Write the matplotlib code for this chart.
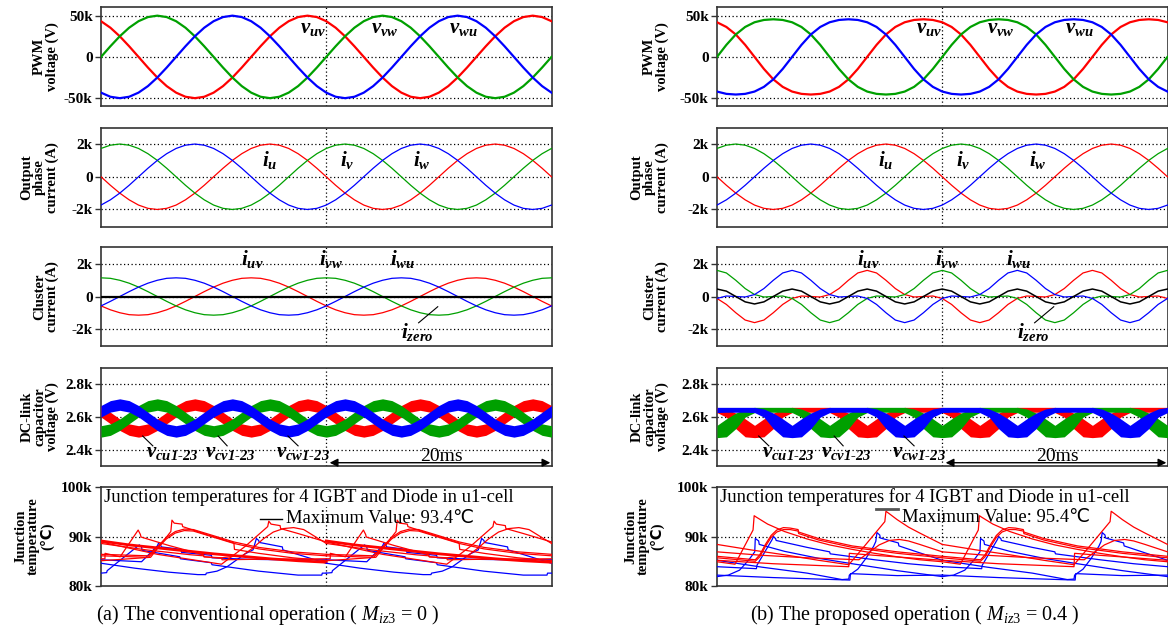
import numpy as np
import matplotlib.pyplot as plt

plt.rcParams['font.family'] = ['Liberation Serif', 'DejaVu Sans']
plt.rcParams['mathtext.fontset'] = 'custom'
plt.rcParams['mathtext.rm'] = 'Liberation Serif'
plt.rcParams['mathtext.it'] = 'Liberation Serif:italic'
plt.rcParams['mathtext.bf'] = 'Liberation Serif:bold'
plt.rcParams['mathtext.bfit'] = 'Liberation Serif:italic:bold'

# ---- data ----------------------------------------------------------------
# sinusoidal quantities: one 20 ms cycle in 15 degree steps (phase u / uv),
# the other two phases are the same cycle shifted by 1/3 period
pwm_uv_a = [43.3, 35.4, 25, 12.9, 0, -12.9, -25, -35.4, -43.3, -48.3, -50, -48.3,
            -43.3, -35.4, -25, -12.9, 0, 12.9, 25, 35.4, 43.3, 48.3, 50, 48.3]
pwm_uv_b = [42.0, 36.3, 27.2, 14.6, 0, -14.6, -27.2, -36.3, -42.0, -44.8, -45.6, -44.8,
            -42.0, -36.3, -27.2, -14.6, 0, 14.6, 27.2, 36.3, 42.0, 44.8, 45.6, 44.8]
cur_u = [0, -0.52, -1.0, -1.41, -1.73, -1.93, -2.0, -1.93, -1.73, -1.41, -1.0, -0.52,
         0, 0.52, 1.0, 1.41, 1.73, 1.93, 2.0, 1.93, 1.73, 1.41, 1.0, 0.52]
clu_uv_a = [-0.58, -0.82, -1.0, -1.12, -1.15, -1.12, -1.0, -0.82, -0.58, -0.3, 0, 0.3,
            0.58, 0.82, 1.0, 1.12, 1.15, 1.12, 1.0, 0.82, 0.58, 0.3, 0, -0.3]
clu_uv_b = [-0.12, -0.49, -1.0, -1.45, -1.61, -1.45, -1.0, -0.49, -0.12, 0.03, 0, -0.03,
            0.12, 0.49, 1.0, 1.45, 1.61, 1.45, 1.0, 0.49, 0.12, -0.03, 0, 0.03]
zero_a = [0] * 24
zero_b = [0.46, 0.33, 0, -0.33, -0.46, -0.33, 0, 0.33] * 3

# DC-link voltage band (kV), one 10 ms ripple cycle, phase v (others shifted)
dc_lo_a = [2.478, 2.489, 2.519, 2.560, 2.601, 2.631, 2.642, 2.631, 2.601, 2.560, 2.519, 2.489]
dc_hi_a = [2.548, 2.559, 2.589, 2.630, 2.671, 2.701, 2.712, 2.701, 2.671, 2.630, 2.589, 2.559]
dc_lo_b = [2.475, 2.48, 2.53, 2.60, 2.628, 2.63, 2.63, 2.63, 2.628, 2.60, 2.53, 2.48]
dc_hi_b = [2.55, 2.59, 2.625, 2.65, 2.66, 2.66, 2.66, 2.66, 2.66, 2.65, 2.625, 2.59]

# junction temperatures, one 20 ms cycle (time ms, value)
jt_red_a = [
    ([0, 2.5, 5, 7.5, 10, 12.5, 15, 17.5, 20],
     [89.1, 88.3, 87.7, 87.1, 86.5, 86.0, 85.5, 85.1, 84.8]),
    ([0, 0.35, 0.36, 1.7, 3.3, 3.5, 3.55, 6.0, 9.1, 9.15, 10.7, 10.75, 14, 20],
     [85.5, 85.5, 86.6, 85.9, 91.3, 90.4, 89.9, 88.2, 86.3, 85.9, 85.6, 85.3, 85.4, 85.5]),
    ([0, 4.4, 6.2, 6.3, 6.5, 7.2, 7.25, 9.5, 11.8, 11.85, 14, 17, 20],
     [85.1, 85.8, 91.0, 93.3, 92.7, 92.5, 92.0, 90.3, 88.7, 87.4, 86.6, 85.7, 85.1]),
    ([0, 4.2, 5.0, 5.8, 6.6, 7.4, 8.2, 9.5, 11.8, 14, 17, 20],
     [86.4, 86.1, 87.9, 89.8, 91.0, 91.5, 91.4, 90.5, 88.9, 87.8, 86.9, 86.4]),
    ([0, 4.2, 5.0, 5.8, 6.6, 7.4, 8.2, 9.5, 11.8, 14, 17, 20],
     [86.1, 85.8, 87.6, 89.5, 90.7, 91.2, 91.1, 90.2, 88.6, 87.5, 86.6, 86.1]),
    ([0, 5, 10.7, 12.8, 14.8, 14.9, 15.1, 15.9, 15.95, 17.5, 20],
     [88.9, 86.4, 84.4, 88.0, 92.0, 93.1, 92.5, 92.2, 91.6, 90.6, 88.9]),
    ([0, 4, 8, 9.1, 9.15, 10.7, 12.6, 13.5, 14.4, 15.3, 16.2, 17.1, 18, 20],
     [88.6, 87.3, 86.3, 86.1, 85.9, 85.7, 86.2, 87.7, 89.5, 90.9, 91.6, 91.8, 91.4, 88.6]),
]
jt_blue_a = [
    ([0, 3, 6, 8.6, 9.3, 9.35, 10.3, 11.2, 12.0, 12.8, 13.5, 13.8, 14.0, 14.05, 16.1, 16.15, 20],
     [84.6, 83.6, 82.8, 82.3, 82.3, 82.6, 83.0, 83.9, 85.2, 86.5, 87.3, 89.6, 89.2, 88.8, 87.9, 87.3, 84.6]),
    ([0, 0.5, 0.55, 3.4, 3.6, 3.65, 7.0, 7.05, 9.8, 9.85, 14, 17.5, 19.6, 19.65, 20],
     [82.6, 82.7, 83.1, 88.3, 87.9, 87.2, 85.9, 85.5, 84.7, 84.3, 83.0, 82.2, 82.2, 82.6, 82.6]),
    ([0, 3.6, 5.0, 5.1, 5.3, 5.35, 7.1, 7.15, 9.8, 9.85, 13, 16, 20],
     [85.3, 84.9, 88.1, 88.6, 88.3, 87.9, 87.4, 86.8, 86.2, 85.7, 85.4, 85.3, 85.3]),
]
jt_red_b = [
    ([0, 1.6, 3.2, 3.3, 3.5, 4.5, 6, 8, 10, 12, 14, 16, 18, 20],
     [84.9, 84.4, 91.3, 94.2, 93.9, 92.5, 91.0, 89.5, 88.3, 87.4, 86.6, 85.9, 85.3, 84.9]),
    ([0, 3.4, 3.8, 4.3, 4.8, 5.3, 5.9, 6.5, 7.2, 7.25, 9, 12, 16, 20],
     [86.0, 85.3, 86.3, 88.4, 90.2, 91.3, 91.8, 91.7, 91.4, 90.9, 89.6, 88.1, 86.9, 86.0]),
    ([0, 3.4, 3.8, 4.3, 4.8, 5.3, 5.9, 6.5, 7.2, 7.25, 9, 12, 16, 20],
     [85.7, 85.0, 85.9, 88.0, 89.8, 90.9, 91.4, 91.4, 91.1, 90.6, 89.3, 87.8, 86.6, 85.7]),
    ([0, 3, 6, 9, 11.7, 13, 14.9, 15.0, 15.3, 16, 17, 18, 20],
     [88.4, 87.3, 86.3, 85.2, 84.3, 87.8, 93.0, 95.1, 94.6, 93.4, 91.9, 90.7, 88.4]),
    ([0, 4, 8, 12.6, 13.5, 14.4, 15.3, 16.2, 17.0, 18, 20],
     [86.9, 86.2, 85.7, 85.3, 86.8, 88.3, 89.2, 89.4, 89.1, 88.4, 86.9]),
    ([0, 5, 11.7, 11.75, 14, 17, 20],
     [85.2, 84.5, 83.9, 86.6, 86.2, 85.7, 85.2]),
]
jt_blue_b = [
    ([0, 1.0, 2.0, 2.8, 3.35, 3.4, 3.7, 3.75, 6, 9, 12, 16, 20],
     [81.9, 82.2, 83.2, 85.2, 86.9, 89.6, 89.1, 88.4, 87.0, 85.6, 84.5, 83.1, 81.9]),
    ([0, 3.5, 3.55, 4.9, 5.0, 5.2, 5.25, 8, 10, 10.05, 14, 17, 20],
     [83.9, 83.5, 84.2, 89.4, 90.0, 89.6, 89.2, 87.8, 86.9, 86.5, 85.3, 84.5, 83.9]),
    ([0, 4, 8, 11.1, 11.7, 11.75, 12.5, 13.2, 13.9, 14.1, 14.2, 14.45, 14.5, 16.1, 16.15, 18, 20],
     [85.2, 83.8, 82.6, 81.3, 81.4, 82.2, 83.4, 85.5, 88.0, 89.0, 90.8, 90.3, 89.7, 88.7, 88.1, 86.7, 85.2]),
    ([0, 5, 11.8, 11.85, 16, 20],
     [82.2, 81.7, 81.2, 82.5, 82.1, 82.2]),
]

max_temp = ['93.4', '95.4']
captions = [r'(a) The conventional operation ( $M_{iz\mathit{3}}$ = 0 )',
            r'(b) The proposed operation ( $M_{iz\mathit{3}}$ = 0.4 )']

RED, GREEN, BLUE = '#ff0000', '#00a000', '#0000ff'
W, H = 1168, 636


def cycle(vals, n):
    a = np.tile(np.asarray(vals, float), n)
    return np.append(a, a[0])


def three(vals, shift):
    v = np.asarray(vals, float)
    return v, np.roll(v, shift), np.roll(v, -shift)


fig = plt.figure(figsize=(W / 100, H / 100), dpi=100)

rows = [(7, 106), (128, 227), (247, 346), (368, 466), (487, 586)]
ylims = [(-59.5, 60.5), (-3.07, 2.98), (-3.05, 3.05), (2.302, 2.9), (80, 100)]
yticks = [([50, 0, -50], ['50k', '0', '-50k']),
          ([2, 0, -2], ['2k', '0', '-2k']),
          ([2, 0, -2], ['2k', '0', '-2k']),
          ([2.8, 2.6, 2.4], ['2.8k', '2.6k', '2.4k']),
          ([100, 90, 80], ['100k', '90k', '80k'])]
ylabels = ['PWM\nvoltage (V)', 'Output\nphase\ncurrent (A)', 'Cluster\ncurrent (A)',
           'DC-link\ncapacitor\nvoltage (V)', 'Junction\ntemperature\n(℃)']

t24 = np.linspace(0, 40, 49)
t12 = np.linspace(0, 40, 49)

for col, x0 in enumerate([101, 717]):
    axes = []
    for r, (top, bot) in enumerate(rows):
        ax = fig.add_axes([x0 / W, 1 - bot / H, 450.5 / W, (bot - top) / H])
        ax.set_xlim(0, 40)
        ax.set_ylim(*ylims[r])
        ax.set_xticks([])
        ax.set_yticks(yticks[r][0])
        ax.set_yticklabels(yticks[r][1], fontweight='bold', fontsize=11)
        ax.tick_params(axis='y', length=4, width=1, pad=2, color='#333333')
        for s in ax.spines.values():
            s.set_color('#333333')
            s.set_linewidth(1.2)
        for yv in yticks[r][0]:
            if ylims[r][0] < yv < ylims[r][1]:
                ax.axhline(yv, color='black', ls=(0, (1, 2)), lw=0.9, zorder=1)
        ax.axvline(20, color='black', ls=(0, (1, 2)), lw=0.9, zorder=1)
        lab_x = (59 if col == 0 else 669) - (5 if r == 4 else 0)
        fig.text(lab_x / W, 1 - (top + bot) / 2 / H, ylabels[r], rotation=90,
                 ha='right', va='center', multialignment='center',
                 fontsize=10.5, fontweight='bold', linespacing=0.95)
        axes.append(ax)

    ax_v, ax_i, ax_c, ax_d, ax_t = axes

    # PWM voltage
    pwm = pwm_uv_a if col == 0 else pwm_uv_b
    for y, c in zip(three(pwm, 8), [RED, GREEN, BLUE]):
        ax_v.plot(t24, cycle(y, 2), color=c, lw=1.6, zorder=3)
    for name, tx in zip(['uv', 'vw', 'wu'], [18.8, 25.2, 32.2]):
        ax_v.text(tx, 34, r'$\mathbfit{v}_{\mathbfit{%s}}$' % name, fontsize=15,
                  ha='center', va='center', zorder=5)

    # output phase current
    for y, c in zip(three(cur_u, 8), [RED, GREEN, BLUE]):
        ax_i.plot(t24, cycle(y, 2), color=c, lw=0.9, zorder=3)
    for name, tx in zip(['u', 'v', 'w'], [15.0, 21.9, 28.5]):
        ax_i.text(tx, 1.05, r'$\mathbfit{i}_{\mathbfit{%s}}$' % name, fontsize=15,
                  ha='center', va='center', zorder=5)

    # cluster current
    clu = clu_uv_a if col == 0 else clu_uv_b
    for y, c in zip(three(clu, 8), [RED, GREEN, BLUE]):
        ax_c.plot(t24, cycle(y, 2), color=c, lw=0.9, zorder=3)
    ax_c.plot(t24, cycle(zero_a if col == 0 else zero_b, 2), color='black',
              lw=1.6 if col == 0 else 1.1, zorder=4)
    for name, tx in zip(['uv', 'vw', 'wu'], [13.4, 20.4, 26.8]):
        ax_c.text(tx, 2.3, r'$\mathbfit{i}_{\mathbfit{%s}}$' % name, fontsize=15,
                  ha='center', va='center', zorder=5)
    ax_c.text(28.1, -2.2, r'$\mathbfit{i}_{\mathbfit{zero}}$', fontsize=15,
              ha='center', va='center', zorder=5)
    ax_c.plot([28.2, 29.9], [-1.62, -0.63], color='black', lw=0.8, zorder=5)

    # DC-link capacitor voltage bands
    lo = dc_lo_a if col == 0 else dc_lo_b
    hi = dc_hi_a if col == 0 else dc_hi_b
    for sh, c in zip([4, 0, 8], [RED, GREEN, BLUE]):
        ax_d.fill_between(t12, cycle(np.roll(lo, sh), 4), cycle(np.roll(hi, sh), 4),
                          color=c, lw=0, zorder=3)
    for name, tx, lead in zip(['cu1\u201023', 'cv1\u201023', 'cw1\u201023'],
                              [6.3, 11.5, 17.9],
                              [(3.7, 4.6), (10.4, 11.2), (16.6, 17.5)]):
        ax_d.text(tx, 2.385, r'$\mathbfit{v}_{\mathbfit{%s}}$' % name, fontsize=15,
                  ha='center', va='center', zorder=5)
        ax_d.plot(lead, [2.485, 2.425], color='black', lw=0.8, zorder=5)
    ax_d.text(30.2, 2.362, '20ms', fontsize=14, ha='center', va='center')
    ax_d.annotate('', xy=(39.9, 2.322), xytext=(20.3, 2.322),
                  arrowprops=dict(arrowstyle='<|-|>', color='black', lw=1,
                                  mutation_scale=12, shrinkA=0, shrinkB=0))

    # junction temperatures
    reds = jt_red_a if col == 0 else jt_red_b
    blues = jt_blue_a if col == 0 else jt_blue_b
    for k in range(2):
        for i, (tt, vv) in enumerate(blues):
            ax_t.plot(np.asarray(tt) + 20 * k, vv, color=BLUE, lw=0.9, zorder=3)
        for i, (tt, vv) in enumerate(reds):
            wide = (col == 0 and i == 0)
            ax_t.plot(np.asarray(tt) + 20 * k, vv, color=RED,
                      lw=2.0 if wide else 0.9, zorder=3)
    ax_t.text(0.3, 98.0, 'Junction temperatures for 4 IGBT and Diode in u1-cell',
              fontsize=13.4, ha='left', va='center', zorder=2,
              bbox=dict(facecolor='white', edgecolor='none', pad=0.5))
    my = 93.6 if col == 0 else 95.6
    ty = 93.6 if col == 0 else 93.8
    ax_t.plot([14.1, 16.1], [my, my], color='black' if col == 0 else '#555555',
              lw=1.0 if col == 0 else 2.0, zorder=6)
    ax_t.text(16.4, ty, 'Maximum Value: %s℃' % max_temp[col], fontsize=13.4,
              ha='left', va='center', zorder=6)

    cx = 268 if col == 0 else 915
    fig.text(cx / W, 1 - 615 / H, captions[col], fontsize=14.5, ha='center', va='center')

fig.savefig('out.png', dpi=100)
